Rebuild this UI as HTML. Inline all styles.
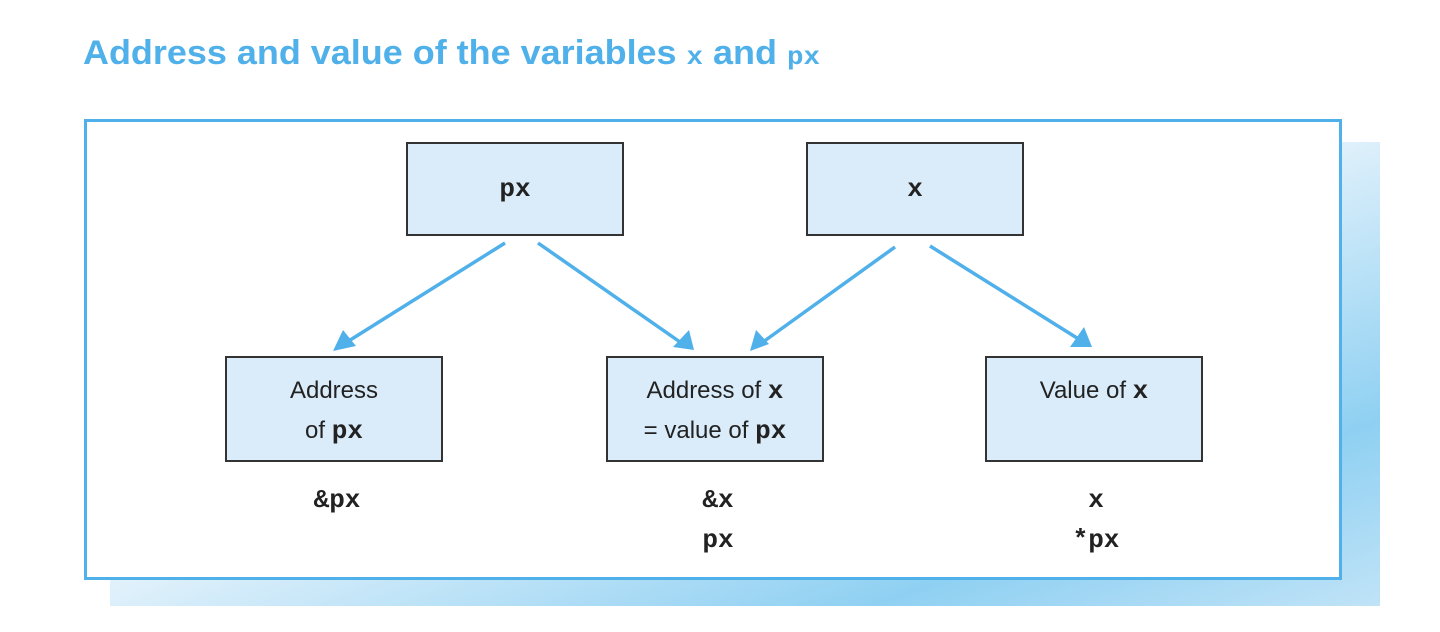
<!DOCTYPE html>
<html><head><meta charset="utf-8"><style>
html,body{margin:0;padding:0;background:#fff;}
svg{display:block;}
.mono{font-family:"Courier New","Liberation Mono","DejaVu Sans Mono",monospace;font-weight:bold;}
.sans{font-family:"Liberation Sans",Arial,sans-serif;}
.title{font-family:"Liberation Sans Narrow","Liberation Sans",sans-serif;font-weight:bold;}
</style></head><body>
<svg width="1440" height="632" viewBox="0 0 1440 632" xmlns="http://www.w3.org/2000/svg">
<defs>
<linearGradient id="sh" x1="0" y1="0" x2="1" y2="1">
<stop offset="0" stop-color="#ffffff"/>
<stop offset="0.45" stop-color="#e8f4fc"/>
<stop offset="0.8" stop-color="#8fd0f2"/>
<stop offset="1" stop-color="#c0e3f7"/>
</linearGradient>
</defs>
<rect x="110" y="142" width="1270" height="464" fill="url(#sh)"/>
<rect x="85.5" y="120.5" width="1255" height="458" fill="#fff" stroke="#4fb0ea" stroke-width="3"/>
<text class="title" x="83" y="64" font-size="34" fill="#4fb0ea" textLength="737" lengthAdjust="spacingAndGlyphs">Address and value of the variables <tspan class="mono" font-size="26">x</tspan> and <tspan class="mono" font-size="26">px</tspan></text>
<g fill="#daecfa" stroke="#333" stroke-width="2">
<rect x="407" y="143" width="216" height="92"/>
<rect x="807" y="143" width="216" height="92"/>
<rect x="226" y="357" width="216" height="104"/>
<rect x="607" y="357" width="216" height="104"/>
<rect x="986" y="357" width="216" height="104"/>
</g>
<g stroke="#4fb0ea" stroke-width="3.5" fill="none">
<line x1="505" y1="243" x2="347" y2="342"/>
<line x1="538" y1="243" x2="680" y2="342"/>
<line x1="895" y1="247" x2="763" y2="342"/>
<line x1="930" y1="246" x2="1077" y2="338"/>
</g>
<g fill="#4fb0ea">
<polygon points="333,351 343,330 356,346"/>
<polygon points="694,350 673,347 689,330"/>
<polygon points="750,351 756,330 769,344"/>
<polygon points="1092,347 1070,347 1084,327"/>
</g>
<g font-size="26" fill="#222" text-anchor="middle">
<text class="mono" x="515" y="196">px</text>
<text class="mono" x="915" y="196">x</text>
<text class="mono" x="337" y="507">&amp;px</text>
<text class="mono" x="718" y="507">&amp;x</text>
<text class="mono" x="718" y="547">px</text>
<text class="mono" x="1096" y="507">x</text>
<text class="mono" x="1096" y="547">*px</text>
</g>
<g font-size="24" fill="#222" text-anchor="middle">
<text class="sans" x="334" y="398">Address</text>
<text class="sans" x="334" y="438">of <tspan class="mono" font-size="26">px</tspan></text>
<text class="sans" x="715" y="398">Address of <tspan class="mono" font-size="26">x</tspan></text>
<text class="sans" x="715" y="438">= value of <tspan class="mono" font-size="26">px</tspan></text>
<text class="sans" x="1094" y="398">Value of <tspan class="mono" font-size="26">x</tspan></text>
</g>
</svg>
</body></html>
